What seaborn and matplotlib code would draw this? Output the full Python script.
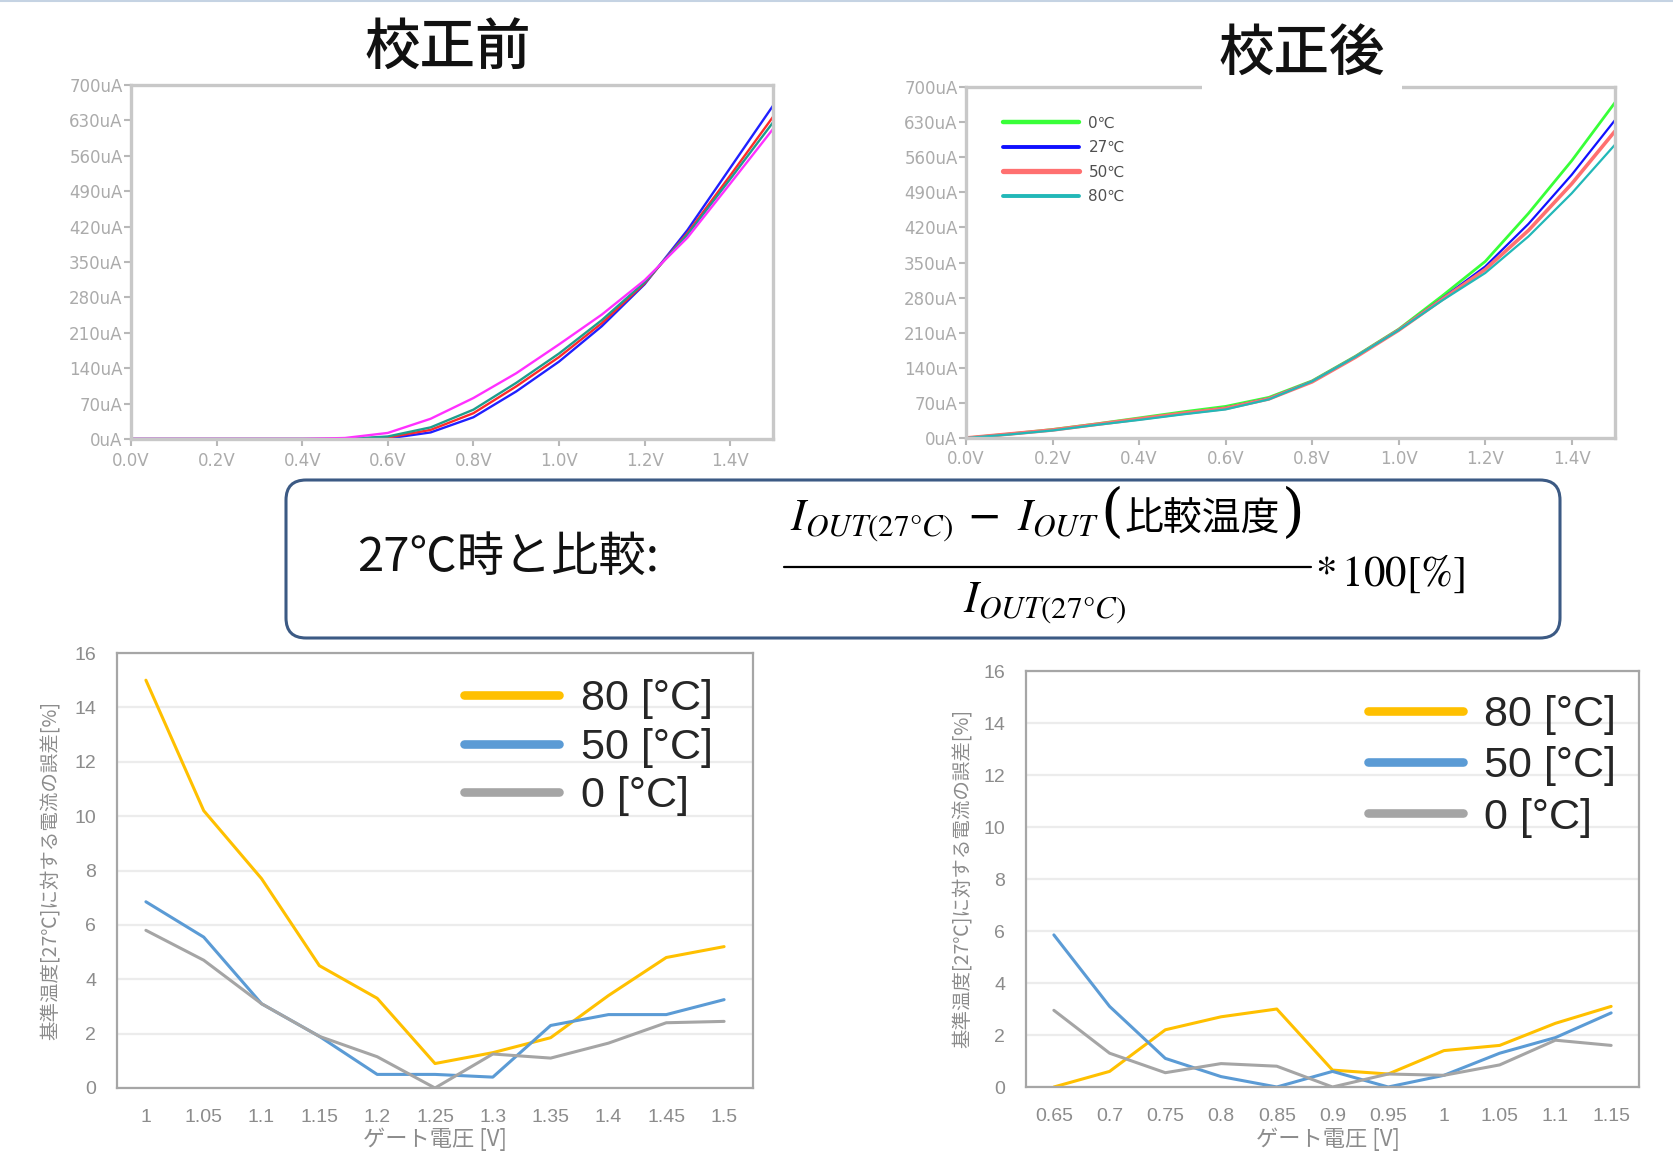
import numpy as np
import pandas as pd
import matplotlib
matplotlib.use("Agg")
import matplotlib.pyplot as plt
import seaborn as sns
from matplotlib import font_manager
from matplotlib.lines import Line2D
from matplotlib.patches import FancyBboxPatch
from matplotlib.offsetbox import TextArea, HPacker, AnnotationBbox

# ---------------- data ----------------
# Id-Vg sweep (gate voltage in V, drain current in uA)
vgs = [0.0, 0.1, 0.2, 0.3, 0.4, 0.5, 0.6, 0.7, 0.8, 0.9, 1.0, 1.1, 1.2, 1.3, 1.4, 1.5]

# before calibration
before_0c = [0, 0, 0, 0, 0, 0, 1, 13, 43, 94, 153, 223, 306, 413, 536, 659]
before_27c = [0, 0, 0, 0, 0, 0, 3, 18, 51, 104, 162, 229, 308, 407, 521, 637]
before_50c = [0, 0, 0, 0, 0, 0, 5, 23, 58, 111, 169, 235, 310, 404, 514, 626]
before_80c = [0, 0, 0, 0, 0, 2, 12, 40, 81, 130, 187, 246, 314, 398, 505, 613]

# after calibration
after_0c = [0, 8, 17, 28, 40, 52, 63, 81, 114, 163, 217, 283, 352, 448, 553, 669]
after_27c = [0, 8, 16, 27, 38, 49, 60, 79, 113, 162, 216, 278, 342, 427, 525, 634]
after_50c = [0, 8, 16, 27, 38, 49, 59, 78, 112, 161, 215, 276, 336, 414, 507, 612]
after_80c = [0, 7, 15, 26, 36, 47, 57, 77, 113, 162, 215, 274, 329, 402, 488, 585]

current_ticks = [0, 70, 140, 210, 280, 350, 420, 490, 560, 630, 700]
volt_ticks = [0.0, 0.2, 0.4, 0.6, 0.8, 1.0, 1.2, 1.4]

# error against 27 degC [%]
err_before_labels = ["1", "1.05", "1.1", "1.15", "1.2", "1.25", "1.3", "1.35", "1.4", "1.45", "1.5"]
err_before_80 = [15.0, 10.2, 7.7, 4.5, 3.3, 0.9, 1.3, 1.85, 3.4, 4.8, 5.2]
err_before_50 = [6.85, 5.55, 3.1, 1.9, 0.5, 0.5, 0.4, 2.3, 2.7, 2.7, 3.25]
err_before_0 = [5.8, 4.7, 3.1, 1.9, 1.15, 0.0, 1.25, 1.1, 1.65, 2.4, 2.45]

err_after_labels = ["0.65", "0.7", "0.75", "0.8", "0.85", "0.9", "0.95", "1", "1.05", "1.1", "1.15"]
err_after_80 = [0.0, 0.6, 2.2, 2.7, 3.0, 0.65, 0.5, 1.4, 1.6, 2.45, 3.1]
err_after_50 = [5.85, 3.1, 1.1, 0.4, 0.0, 0.6, 0.0, 0.45, 1.3, 1.9, 2.85]
err_after_0 = [2.95, 1.3, 0.55, 0.9, 0.8, 0.0, 0.5, 0.45, 0.85, 1.8, 1.6]

temp_labels = ["80 [°C]", "50 [°C]", "0 [°C]"]
temp_colors = ["#FFC000", "#5B9BD5", "#A5A5A5"]

# ---------------- style ----------------
sns.set_theme(style="white")
CJK = "Noto Sans CJK JP"
plt.rcParams["font.family"] = ["DejaVu Sans", CJK]


def has_font(name):
    try:
        font_manager.findfont(font_manager.FontProperties(family=name), fallback_to_default=False)
        return True
    except Exception:
        return False


NARROW = "Liberation Sans Narrow" if has_font("Liberation Sans Narrow") else "Liberation Sans"

W, H = 1673, 1153
fig = plt.figure(figsize=(W / 100, H / 100), dpi=100)
fig.patch.set_facecolor("white")


def rect(x0, y0, x1, y1):
    return [x0 / W, 1 - y1 / H, (x1 - x0) / W, (y1 - y0) / H]


# ---------------- Id-Vg panels ----------------
def iv_axes(ax):
    ax.set_xlim(0, 1.5)
    ax.set_ylim(0, 700)
    ax.set_xticks(volt_ticks)
    ax.set_xticklabels([f"{v:.1f}V" for v in volt_ticks])
    ax.set_yticks(current_ticks)
    ax.set_yticklabels([f"{v}uA" for v in current_ticks])
    ax.tick_params(direction="out", length=5, width=1.5, color="#b8b8b8",
                   labelsize=12, labelcolor="#ababab", left=True, bottom=True)
    ax.tick_params(axis="y", pad=1)
    ax.tick_params(axis="x", pad=4)
    for s in ax.spines.values():
        s.set_color("#c8c8c8")
        s.set_linewidth(2.4)
    ax.set_xlabel("")
    ax.set_ylabel("")
    ax.grid(False)


ax_tl = fig.add_axes(rect(131, 85, 773, 439))
for ys, col in [(before_0c, "#2020ff"), (before_27c, "#ff2a2a"),
                (before_50c, "#1e9e8c"), (before_80c, "#ff30ff")]:
    sns.lineplot(x=vgs, y=ys, color=col, lw=1.7, ax=ax_tl, estimator=None, sort=False)
iv_axes(ax_tl)

ax_tr = fig.add_axes(rect(966, 87, 1615, 438))
after_series = [(after_0c, "#38ff38", 2.0, "0℃"), (after_27c, "#1010ff", 1.6, "27℃"),
                (after_50c, "#ff7070", 2.6, "50℃"), (after_80c, "#22b8b8", 1.6, "80℃")]
for ys, col, lw, lab in after_series:
    sns.lineplot(x=vgs, y=ys, color=col, lw=lw, ax=ax_tr, estimator=None, sort=False, label=lab)
iv_axes(ax_tr)
leg = ax_tr.legend(loc="upper left", bbox_to_anchor=(0.045, 0.94), frameon=False,
                   fontsize=11, handlelength=5.0, handletextpad=0.6, labelspacing=0.62,
                   borderpad=0)
for t in leg.get_texts():
    t.set_color("#505050")
for h, (_, col, lw, _) in zip(leg.get_lines(), after_series):
    h.set_linewidth(lw + 1.2)


# ---------------- error panels ----------------
def err_panel(ax, labels, series, legend_anchor, spacing):
    rows = []
    for lab, vals in zip(temp_labels, series):
        for i, v in enumerate(vals):
            rows.append({"pos": i, "err": v, "temp": lab})
    df = pd.DataFrame(rows)
    sns.lineplot(data=df, x="pos", y="err", hue="temp", hue_order=temp_labels,
                 palette=dict(zip(temp_labels, temp_colors)), lw=2.2, ax=ax,
                 estimator=None, sort=False, legend=False)
    ax.set_xlim(-0.5, len(labels) - 0.5)
    ax.set_ylim(0, 16)
    ax.set_yticks(range(0, 17, 2))
    ax.set_xticks(range(len(labels)))
    ax.set_xticklabels(labels)
    ax.grid(axis="y", color="#ececec", lw=1.6)
    ax.grid(axis="x", visible=False)
    ax.set_axisbelow(True)
    ax.tick_params(length=0, labelsize=14, labelcolor="#8c8c8c")
    ax.tick_params(axis="y", pad=15)
    ax.tick_params(axis="x", pad=15)
    for t in ax.get_xticklabels() + ax.get_yticklabels():
        t.set_family(NARROW)
    for s in ax.spines.values():
        s.set_color("#a6a6a6")
        s.set_linewidth(1.6)
    ax.set_ylabel("基準温度[27℃]に対する電流の誤差[%]", fontsize=14, color="#8c8c8c",
                  family=[CJK, "DejaVu Sans"])
    ax.set_xlabel("ゲート電圧 [V]", fontsize=16, color="#8c8c8c", family=[CJK, "DejaVu Sans"])
    handles = [Line2D([], [], color=c, lw=6.2) for c in temp_colors]
    ax.legend(handles, temp_labels, loc="upper left", bbox_to_anchor=legend_anchor,
              frameon=False, prop={"family": NARROW, "size": 31}, handlelength=2.2,
              handletextpad=0.5, labelspacing=spacing, borderpad=0, borderaxespad=0)


ax_bl = fig.add_axes(rect(117, 653, 753, 1088))
err_panel(ax_bl, err_before_labels, [err_before_80, err_before_50, err_before_0],
          (0.546, 0.94), 0.2)
ax_bl.yaxis.set_label_coords(-0.086, 0.5)
ax_bl.xaxis.set_label_coords(0.5, -0.09)

ax_br = fig.add_axes(rect(1026, 671, 1639, 1087))
err_panel(ax_br, err_after_labels, [err_after_80, err_after_50, err_after_0],
          (0.558, 0.942), 0.26)
ax_br.yaxis.set_label_coords(-0.085, 0.5)
ax_br.xaxis.set_label_coords(0.492, -0.097)

# ---------------- overlay: titles and formula ----------------
ov = fig.add_axes([0, 0, 1, 1])
ov.set_xlim(0, 1)
ov.set_ylim(0, 1)
ov.axis("off")

ov.plot([0, 1], [0.999, 0.999], color="#c5d3e3", lw=1.5)

ov.text(448 / W, 1 - 48 / H, "校正前", fontsize=40, family=[CJK], ha="center", va="center",
        color="#111111", fontweight="medium")
ov.text(1302 / W, 1 - 55 / H, "校正後", fontsize=40, family=[CJK], ha="center", va="center",
        color="#111111", fontweight="medium",
        bbox=dict(facecolor="white", edgecolor="none", pad=12))

box = FancyBboxPatch((286 / W, 1 - 638 / H), (1560 - 286) / W, (638 - 480) / H,
                     boxstyle="round,pad=0,rounding_size=0.012", mutation_aspect=W / H,
                     facecolor="white", edgecolor="#3c5a84", lw=2.2, transform=ov.transAxes)
ov.add_patch(box)

ov.text(357 / W, 1 - 558 / H, "27℃時と比較:", fontsize=34, family=[CJK], ha="left",
        va="center", color="#111111")

mprops = dict(size=32, math_fontfamily="stix", color="black")
paren = dict(size=42, family="DejaVu Serif", color="black", fontweight="light")
numer = HPacker(children=[
    TextArea(r"$I_{OUT(27°C)}$", textprops=mprops),
    TextArea(" − ", textprops=dict(size=30, family="DejaVu Serif", color="black")),
    TextArea(r"$I_{OUT}$", textprops=mprops),
    TextArea("(", textprops=paren),
    TextArea("比較温度", textprops=dict(size=28, family=CJK, color="black")),
    TextArea(")", textprops=paren),
], align="baseline", pad=0, sep=1)
ov.add_artist(AnnotationBbox(numer, (1047 / W, 1 - 515 / H), xycoords="axes fraction",
                             box_alignment=(0.5, 0.5), frameon=False, pad=0))

ov.plot([784 / W, 1311 / W], [1 - 567 / H, 1 - 567 / H], color="black", lw=1.6)

denom = TextArea(r"$I_{OUT(27°C)}$", textprops=mprops)
ov.add_artist(AnnotationBbox(denom, (1045 / W, 1 - 602 / H), xycoords="axes fraction",
                             box_alignment=(0.5, 0.5), frameon=False, pad=0))

ov.text(1315 / W, 1 - 574 / H, r"$*\,100[\%]$", fontsize=31, math_fontfamily="stix",
        ha="left", va="center", color="black")

fig.savefig("out.png", dpi=100, facecolor="white")
